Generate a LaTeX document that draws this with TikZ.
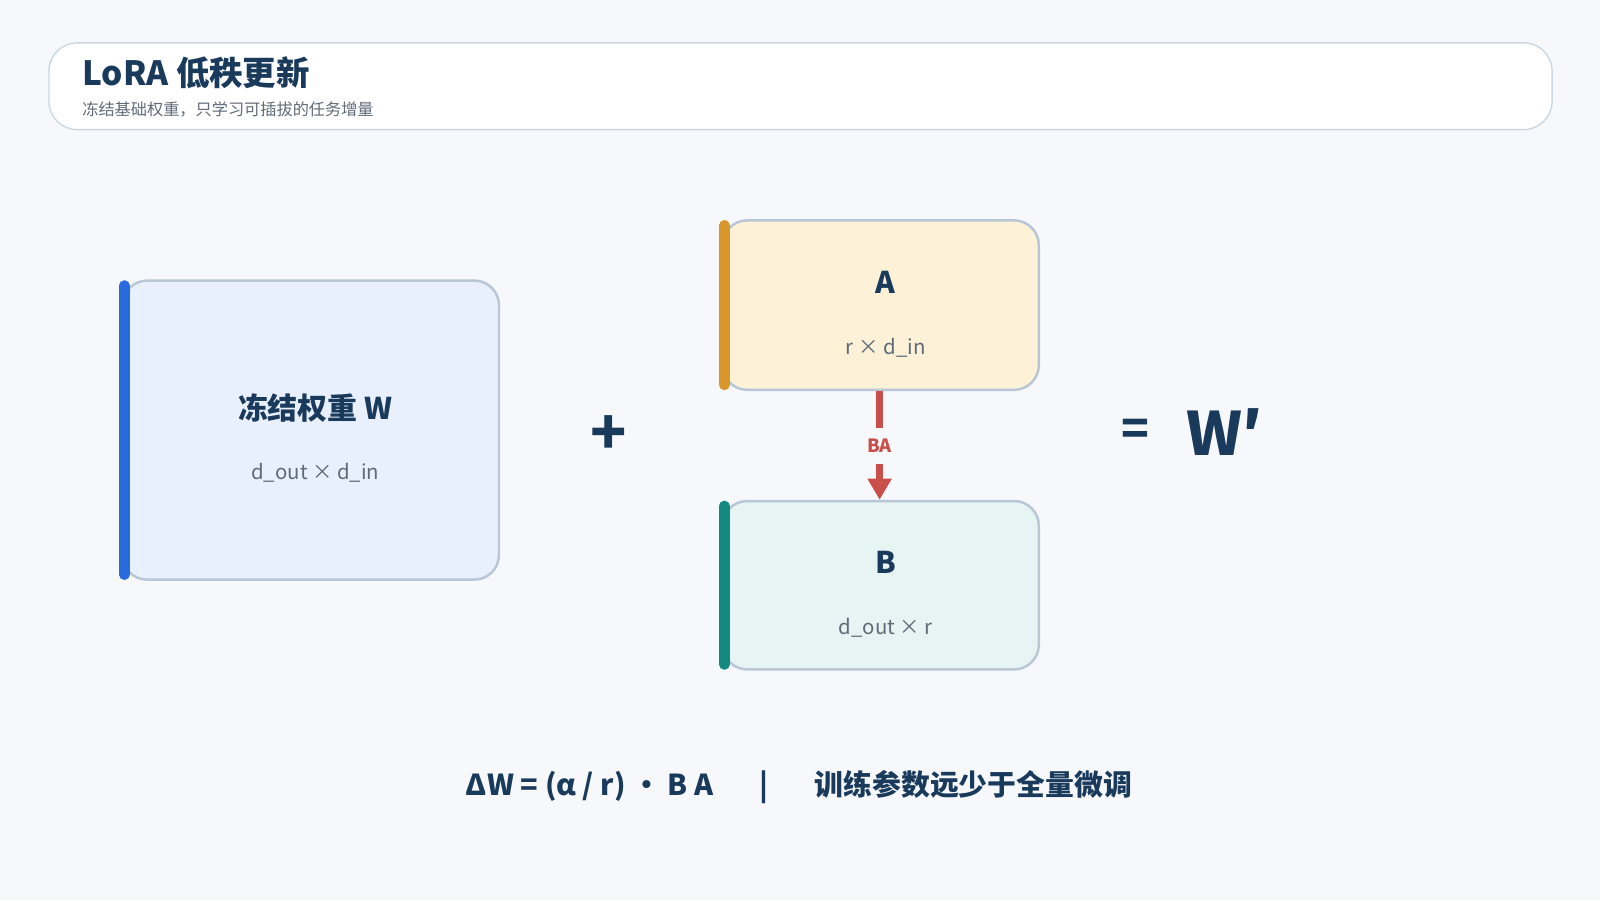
\documentclass[tikz,border=0pt]{standalone}
\usepackage{fontspec}
\setmainfont{Noto Sans CJK SC}
\usetikzlibrary{arrows.meta,positioning}
\definecolor{navy}{HTML}{1A3A5C}
\definecolor{grayt}{HTML}{5F6B78}
\definecolor{edge}{HTML}{B8C6D6}
\definecolor{bgc}{HTML}{F6F8FC}
\definecolor{wfill}{HTML}{E8F0FD}
\definecolor{wbar}{HTML}{2A6ADF}
\definecolor{afill}{HTML}{FDF2D8}
\definecolor{abar}{HTML}{D9962A}
\definecolor{bfill}{HTML}{E6F5F3}
\definecolor{bbar}{HTML}{138A80}
\definecolor{red}{HTML}{C9504A}
\begin{document}
\begin{tikzpicture}[x=0.0102cm,y=-0.0102cm,
    mat node/.style={draw=edge,line width=0.7pt,rounded corners=7pt,inner sep=0pt},
    big text/.style={font=\fontsize{8.5}{10}\selectfont\bfseries,text=navy},
    dim text/.style={font=\fontsize{5.8}{7}\selectfont,text=grayt},
    sym text/.style={font=\fontsize{17}{20}\selectfont\bfseries,text=navy}]
\fill[bgc] (0,0) rectangle (1568,882);
\useasboundingbox (0,0) rectangle (1568,882);
% header
\node[mat node,fill=white,draw=edge!70,line width=0.4pt,rounded corners=8pt,minimum width=1473*0.0102cm,minimum height=85*0.0102cm] (head) at (784.5,84.5) {};
\node[anchor=west,font=\fontsize{9.5}{11}\selectfont\bfseries,text=navy,inner sep=0pt] (title) at (80,71) {LoRA 低秩更新};
\node[anchor=west,font=\fontsize{4.6}{6}\selectfont,text=grayt,inner sep=0pt] (sub) at (80,107) {冻结基础权重，只学习可插拔的任务增量};
% matrices
\node[mat node,fill=wfill,minimum width=369*0.0102cm,minimum height=293*0.0102cm] (W) at (304.5,421.5) {};
\draw[wbar,line width=3pt,line cap=round] (W.north west) ++(3,6) -- ([shift={(3,-6)}]W.south west);
\node[big text] (wl) at (309,400) {冻结权重 W};
\node[dim text] (wd) at (309,463) {d\_out × d\_in};
\node[mat node,fill=afill,minimum width=310*0.0102cm,minimum height=166*0.0102cm] (A) at (863,299) {};
\draw[abar,line width=3pt,line cap=round] (A.north west) ++(3,6) -- ([shift={(3,-6)}]A.south west);
\node[big text] (al) at (868,277) {A};
\node[dim text] (ad) at (868,341) {r × d\_in};
\node[mat node,fill=bfill,minimum width=310*0.0102cm,minimum height=165*0.0102cm] (B) at (863,573.5) {};
\draw[bbar,line width=3pt,line cap=round] (B.north west) ++(3,6) -- ([shift={(3,-6)}]B.south west);
\node[big text] (bl) at (868,551) {B};
\node[dim text] (bd) at (868,615) {d\_out × r};
% update arrow
\node[font=\fontsize{5.2}{6}\selectfont\bfseries,text=red,inner sep=3pt] (ba) at (862,437) {BA};
\draw[red,line width=2pt] (A.south -| ba) -- (ba.north);
\draw[red,line width=2pt,-{Triangle[length=6pt,width=6.5pt]}] (ba.south) -- (B.north -| ba);
% symbols
\node[sym text] (plus) at (597,426) {+};
\node[sym text,font=\fontsize{13}{15}\selectfont\bfseries] (eq) at (1113,424) {=};
\node[sym text] (wp) at (1200,423) {W′};
\node[big text,font=\fontsize{8.2}{10}\selectfont\bfseries] (formula) at (783,771) {ΔW = (α / r) • B A\hspace{1.6em}|\hspace{1.6em}训练参数远少于全量微调};
\end{tikzpicture}
\end{document}
